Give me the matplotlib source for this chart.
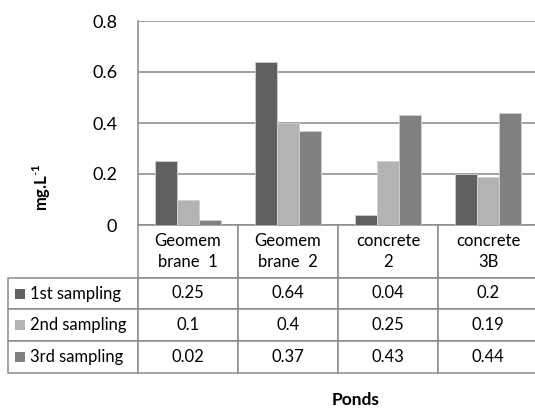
import matplotlib
matplotlib.use('Agg')
import matplotlib.pyplot as plt
from matplotlib.table import Table
from matplotlib.patches import Rectangle
import numpy as np

ponds = ['Geomem\nbrane  1', 'Geomem\nbrane  2', 'concrete\n2', 'concrete\n3B']
series = ['1st sampling', '2nd sampling', '3rd sampling']
first = [0.25, 0.64, 0.04, 0.2]
second = [0.1, 0.4, 0.25, 0.19]
third = [0.02, 0.37, 0.43, 0.44]
yticks = [0, 0.2, 0.4, 0.6, 0.8]
ytick_labels = ['0', '0.2', '0.4', '0.6', '0.8']

colors = ['#606060', '#b3b3b3', '#808080']
grid_c = '#878787'

plt.rcParams['font.family'] = ['Lato', 'DejaVu Sans']
plt.rcParams['mathtext.fontset'] = 'custom'
plt.rcParams['mathtext.rm'] = 'Lato'
plt.rcParams['mathtext.bf'] = 'Lato:bold'

W, H = 535, 412
fig = plt.figure(figsize=(W / 100, H / 100), dpi=100)

def px(x0, y0, x1, y1):
    # pixel box (top-left origin) -> figure coords [l, b, w, h]
    return [x0 / W, 1 - y1 / H, (x1 - x0) / W, (y1 - y0) / H]

ax = fig.add_axes(px(138, 21, 538, 225))

x = np.arange(len(ponds))
bw = 0.22
for i, vals in enumerate([first, second, third]):
    ax.bar(x + (i - 1) * bw, vals, bw, color=colors[i],
           edgecolor='#d0d0d0', linewidth=0.6, zorder=3)

ax.set_xlim(-0.5, 3.5)
ax.set_ylim(0, 0.8)
ax.set_yticks(yticks)
ax.set_yticklabels(ytick_labels, fontsize=13)
ax.set_xticks([])
ax.tick_params(axis='y', length=0, pad=15)
ax.grid(axis='y', color=grid_c, linewidth=1.1, zorder=0)
for s in ['top', 'right', 'bottom']:
    ax.spines[s].set_visible(False)
ax.spines['left'].set_color(grid_c)
ax.spines['left'].set_linewidth(1.1)

# data table under the plot
tb = Table(ax, bbox=[-130 / 400, -148 / 204, 530 / 400, 148 / 204])
col_w = [130, 100, 100, 100, 100]
row_h = [53, 31, 32, 32]
edge = '#8c8c8c'
fs = 12
for j, name in enumerate(ponds):
    c = tb.add_cell(0, j + 1, col_w[j + 1], row_h[0], text=name, loc='center', edgecolor=edge)
    c.get_text().set_fontsize(fs)
    c.get_text().set_linespacing(1.45)
for i, (lab, vals) in enumerate(zip(series, [first, second, third])):
    c = tb.add_cell(i + 1, 0, col_w[0], row_h[i + 1], text=lab, loc='left', edgecolor=edge)
    c.PAD = 0.17
    c.get_text().set_fontsize(fs)
    for j, v in enumerate(vals):
        c = tb.add_cell(i + 1, j + 1, col_w[j + 1], row_h[i + 1], text=str(v), loc='center', edgecolor=edge)
        c.get_text().set_fontsize(fs)
tb.auto_set_font_size(False)
for cell in tb.get_celld().values():
    cell.set_linewidth(1.1)
ax.add_table(tb)

# legend keys in row labels
row_mid = [293.5, 325, 357]
for i in range(3):
    fig.add_artist(Rectangle((15 / W, 1 - (row_mid[i] + 5) / H), 10 / W, 10 / H,
                             transform=fig.transFigure, facecolor=colors[i], edgecolor='none'))

fig.text(42 / W, 1 - 187 / H, r'mg.L$^{\mathbf{\text{-}1}}$', rotation=90, fontsize=12,
         fontweight='bold', ha='center', va='center')
fig.text(356 / W, 1 - 400 / H, 'Ponds', fontsize=12.5, fontweight='bold',
         ha='center', va='center')

fig.savefig('out.png', dpi=100)
